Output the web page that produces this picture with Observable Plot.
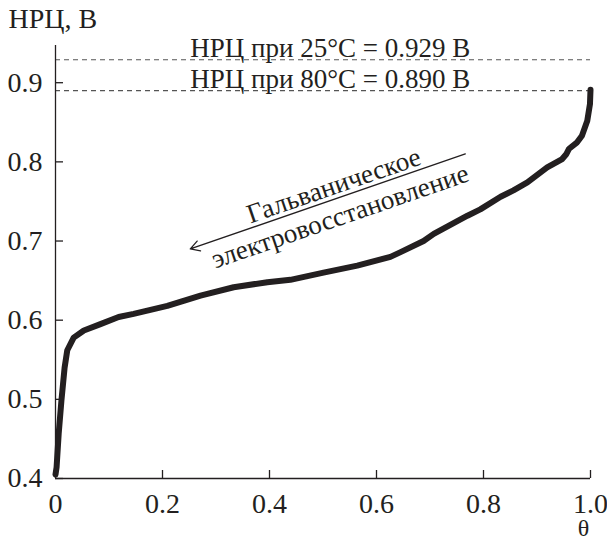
<!DOCTYPE html>
<html><head><meta charset="utf-8">
<script src="https://cdn.jsdelivr.net/npm/d3@7"></script>
<script src="https://cdn.jsdelivr.net/npm/@observablehq/plot@0.6"></script>
<style>body{margin:0;background:#fff}</style>
</head><body><div id="chart"></div>
<script>
const theta = [0, 0.002, 0.006, 0.011, 0.017, 0.022, 0.034, 0.053, 0.084, 0.118, 0.146, 0.209, 0.271, 0.333, 0.396, 0.439, 0.501, 0.564, 0.626, 0.645, 0.688, 0.707, 0.751, 0.770, 0.794, 0.832, 0.856, 0.882, 0.919, 0.947, 0.955, 0.960, 0.975, 0.984, 0.994, 0.999, 1.0];
const voltage = [0.405, 0.414, 0.457, 0.498, 0.540, 0.562, 0.578, 0.587, 0.595, 0.604, 0.608, 0.618, 0.631, 0.6416, 0.648, 0.651, 0.660, 0.669, 0.680, 0.686, 0.700, 0.709, 0.725, 0.732, 0.740, 0.756, 0.764, 0.774, 0.793, 0.8036, 0.810, 0.8166, 0.8247, 0.833, 0.852, 0.873, 0.891];
const xTicks = [0, 0.2, 0.4, 0.6, 0.8, 1.0];
const xTickLabels = ["0", "0.2", "0.4", "0.6", "0.8", "1.0"];
const yTicks = [0.4, 0.5, 0.6, 0.7, 0.8, 0.9];
const yTickLabels = ["0.4", "0.5", "0.6", "0.7", "0.8", "0.9"];
const refLevels = [0.929, 0.890];
const refLabels = ["НРЦ при 25°C = 0.929 В", "НРЦ при 80°C = 0.890 В"];
const yLabel = "НРЦ, В";
const xLabel = "θ";
const arrowLabels = ["Гальваническое", "электровосстановление"];

const curve = theta.map((t, i) => ({theta: t, v: voltage[i]}));
const ink = "#231f20";
const W = 607, H = 540, mL = 55, mR = 17, mT = 45, mB = 62;
const frameW = W - mL - mR, frameH = H - mT - mB;

const plot = Plot.plot({
  width: W, height: H,
  marginLeft: mL, marginRight: mR, marginTop: mT, marginBottom: mB,
  x: {domain: [0, 1]},
  y: {domain: [0.4, 0.947]},
  style: {fontFamily: "'Liberation Serif', 'Times New Roman', serif", fontSize: "28px", color: ink, background: "#fff", overflow: "visible"},
  marks: [
    Plot.ruleY(refLevels, {y: d => d, x1: 0, x2: 1, stroke: "#555", strokeDasharray: "5,4", strokeWidth: 1.2}),
    Plot.text(refLevels, {y: d => d, x: 0.252, text: (d, i) => refLabels[i], textAnchor: "start", lineAnchor: "bottom", dy: -3, fontSize: 27, fill: ink}),
    Plot.ruleX([0], {stroke: ink, strokeWidth: 1.3}),
    Plot.ruleY([0.4], {stroke: ink, strokeWidth: 1.3}),
    Plot.tickX(xTicks, {x: d => d, insetTop: frameH - 8, stroke: ink, strokeWidth: 1.3}),
    Plot.tickY(yTicks, {y: d => d, insetRight: frameW - 8, stroke: ink, strokeWidth: 1.3}),
    Plot.axisX({ticks: xTicks, tickFormat: d => xTickLabels[xTicks.indexOf(d)], tickSize: 0, tickPadding: 15, label: null}),
    Plot.axisY({ticks: yTicks, tickFormat: d => yTickLabels[yTicks.indexOf(d)], tickSize: 0, tickPadding: 13, label: null}),
    Plot.line(curve, {x: "theta", y: "v", stroke: ink, strokeWidth: 6, strokeLinejoin: "round", strokeLinecap: "round"}),
    Plot.arrow([{x1: 0.766, y1: 0.810, x2: 0.252, y2: 0.690}], {x1: "x1", y1: "y1", x2: "x2", y2: "y2", stroke: ink, strokeWidth: 1.3, headLength: 12}),
    Plot.text([arrowLabels[0]], {x: 0.52, y: 0.770, text: d => d, rotate: -19, textAnchor: "middle", lineAnchor: "middle", fontSize: 27, fill: ink}),
    Plot.text([arrowLabels[1]], {x: 0.532, y: 0.731, text: d => d, rotate: -19, textAnchor: "middle", lineAnchor: "middle", fontSize: 27, fill: ink}),
    Plot.text([yLabel], {frameAnchor: "top-left", text: d => d, dx: -47, dy: -26, textAnchor: "start", lineAnchor: "middle", fill: ink}),
    Plot.text([xLabel], {frameAnchor: "bottom-right", text: d => d, dx: -7, dy: 50, textAnchor: "middle", lineAnchor: "middle", fontSize: 24, fill: ink})
  ]
});
document.getElementById("chart").appendChild(plot);
</script>
</body></html>
